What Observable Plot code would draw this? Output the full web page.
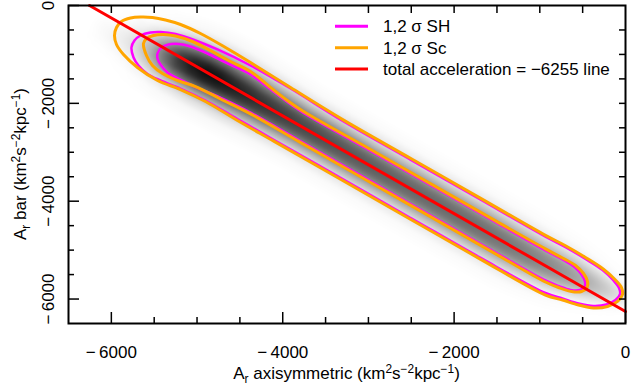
<!DOCTYPE html>
<html>
<head>
<meta charset="utf-8">
<script src="https://cdn.jsdelivr.net/npm/d3@7"></script>
<script src="https://cdn.jsdelivr.net/npm/@observablehq/plot@0.6"></script>
<style>
  html, body { margin: 0; padding: 0; background: #fff; }
</style>
</head>
<body>
<div id="chart"></div>
<script>
// ---------- data ----------
const totalAcc = -6255;                       // red line: x + y = -6255
const xMajor = [-6000, -4000, -2000, 0];
const xMinor = [-5500, -5000, -4500, -3500, -3000, -2500, -1500, -1000, -500];
const yMajor = [0, -2000, -4000, -6000];
const yMinor = [-500, -1000, -1500, -2500, -3000, -3500, -4500, -5000, -5500];
const allTicks = [-6000, -5500, -5000, -4500, -4000, -3500, -3000, -2500, -2000, -1500, -1000, -500];

const legendLabels = ["1,2 \u03c3 SH", "1,2 \u03c3 Sc", "total acceleration = \u22126255 line"];
const legendColors = ["#ff00ff", "#ffa500", "#ff0000"];

// contours (closed), data units
const sc2X = [-5963, -5940, -5882, -5776, -5660, -5520, -5368, -5193, -4960, -4668, -4376, -3909, -3300, -2500, -1700, -934, -700, -467, -257, -117, -47, -35, -93, -210, -373, -548, -735, -934, -1700, -2500, -3300, -4100, -4528, -4901, -5193, -5461, -5695, -5858, -5940];
const sc2Y = [-613, -450, -327, -256, -235, -245, -296, -388, -572, -858, -1165, -1676, -2332, -3132, -3932, -4698, -4910, -5150, -5390, -5610, -5764, -5907, -6050, -6152, -6183, -6122, -6020, -5920, -5178, -4378, -3578, -2778, -2351, -1962, -1717, -1533, -1267, -1002, -797];

const sh2X = [-5765, -5730, -5660, -5543, -5426, -5251, -5018, -4761, -4376, -3909, -3300, -2500, -1700, -934, -700, -467, -268, -140, -76, -64, -117, -222, -373, -548, -735, -934, -1700, -2500, -3300, -4100, -4528, -4901, -5193, -5426, -5578, -5683, -5741];
const sh2Y = [-858, -715, -613, -552, -542, -583, -715, -899, -1226, -1697, -2360, -3160, -3960, -4726, -4940, -5180, -5406, -5621, -5774, -5897, -6020, -6112, -6142, -6091, -5989, -5877, -5150, -4350, -3550, -2750, -2322, -1942, -1697, -1533, -1400, -1226, -1063];

const sc1X = [-5625, -5590, -5508, -5391, -5251, -5053, -4843, -4609, -4376, -4084, -3793, -3000, -2200, -1500, -934, -735, -583, -490, -443, -449, -513, -630, -782, -934, -1500, -2200, -3000, -3800, -4376, -4726, -5018, -5228, -5403, -5520, -5590];
const sc1Y = [-777, -675, -613, -593, -623, -736, -920, -1145, -1349, -1758, -2126, -2918, -3718, -4418, -4975, -5160, -5314, -5478, -5641, -5764, -5846, -5846, -5764, -5652, -5092, -4392, -3592, -2792, -2216, -1911, -1656, -1533, -1390, -1226, -1022];

const sh1X = [-5461, -5415, -5333, -5216, -5076, -4878, -4668, -4376, -4084, -3793, -3000, -2200, -1500, -934, -735, -595, -513, -473, -478, -531, -642, -782, -934, -1500, -2200, -3000, -3800, -4376, -4691, -5076, -5345, -5426, -5461];
const sh1Y = [-981, -858, -797, -787, -838, -981, -1165, -1410, -1789, -2156, -2945, -3745, -4445, -5005, -5190, -5345, -5498, -5641, -5744, -5815, -5815, -5733, -5621, -5065, -4365, -3565, -2765, -2189, -1915, -1615, -1369, -1206, -1083];

// grey density: stations along the ridge (x on the red line), darkness, offset from the red line, width
const densX     = [-6150, -5950, -5800, -5650, -5500, -5350, -5200, -5050, -4900, -4750, -4550, -4300, -4050, -3800, -3550, -3300, -3050, -2800, -2550, -2300, -2050, -1800, -1550, -1300, -1100, -900, -720, -560, -420, -290, -170, -60, 60, 180];
const densPeak  = [0, 0.03, 0.07, 0.14, 0.3, 0.55, 0.78, 0.9, 0.95, 0.94, 0.88, 0.82, 0.77, 0.73, 0.7, 0.67, 0.65, 0.63, 0.61, 0.6, 0.59, 0.58, 0.56, 0.53, 0.5, 0.46, 0.41, 0.35, 0.28, 0.21, 0.14, 0.08, 0.03, 0];
const densShift = [-350, -320, -260, -200, -150, -110, -70, -40, -20, -5, 0, 5, 10, 10, 10, 5, 0, 0, 0, 0, 0, 0, 0, 5, 20, 45, 80, 120, 160, 200, 240, 265, 285, 300];
const densWidth = [0.5, 0.6, 0.72, 0.85, 0.95, 1.0, 1.05, 1.08, 1.1, 1.1, 1.1, 1.06, 1.03, 1.0, 1.0, 1.0, 1.0, 1.0, 1.0, 1.0, 1.0, 1.0, 1.0, 1.0, 0.97, 0.93, 0.88, 0.8, 0.72, 0.64, 0.56, 0.48, 0.42, 0.4];
const profOffset = [-2.0, -1.5, -1.15, -0.85, -0.58, -0.3, 0, 0.3, 0.58, 0.85, 1.15, 1.5, 2.0]; // x halfWidth
const profShape  = [0, 0.03, 0.14, 0.38, 0.66, 0.91, 1, 0.91, 0.66, 0.38, 0.14, 0.03, 0];
const halfWidth = 560;
// direction (in data units) that is perpendicular to the red line on screen, per unit of vertical offset
const perpX = 0.2457, perpY = 0.755;

// ---------- tables for the library ----------
const zipXY = (xs, ys) => xs.map((x, i) => ({x, y: ys[i]}));
const densityPts = [];
densX.forEach((xc, i) => {
  const yc = totalAcc - xc;
  profOffset.forEach((o, j) => {
    const d = densShift[i] + densWidth[i] * o * halfWidth;
    densityPts.push({x: xc + perpX * d, y: yc + perpY * d, v: densPeak[i] * profShape[j]});
  });
});
const redLine = [{x: totalAcc, y: 0}, {x: 0, y: totalAcc}];
const fmt = d => d === 0 ? "0" : "\u2212\u2009" + Math.abs(d);

const FONT = "'Liberation Sans', Arial, Helvetica, sans-serif";

const chart = Plot.plot({
  width: 631,
  height: 386,
  marginLeft: 68,
  marginRight: 6,
  marginTop: 5,
  marginBottom: 63,
  x: {domain: [-6500, 0]},
  y: {domain: [-6500, 0]},
  color: {type: "linear", domain: [0, 1], range: ["#ffffff", "#000000"]},
  style: {fontFamily: FONT, fontSize: "17px", background: "white", color: "black"},
  marks: [
    Plot.raster(densityPts, {x: "x", y: "y", fill: "v", interpolate: "barycentric", x1: -6500, x2: 0, y1: -6500, y2: 0, className: "dens"}),
    Plot.line(zipXY(sh2X, sh2Y), {x: "x", y: "y", stroke: "#ff00ff", strokeWidth: 2.5, curve: "catmull-rom-closed"}),
    Plot.line(zipXY(sh1X, sh1Y), {x: "x", y: "y", stroke: "#ff00ff", strokeWidth: 2.5, curve: "catmull-rom-closed"}),
    Plot.line(zipXY(sc2X, sc2Y), {x: "x", y: "y", stroke: "#ffa500", strokeWidth: 3, curve: "catmull-rom-closed"}),
    Plot.line(zipXY(sc1X, sc1Y), {x: "x", y: "y", stroke: "#ffa500", strokeWidth: 3, curve: "catmull-rom-closed"}),
    Plot.line(redLine, {x: "x", y: "y", stroke: "#ff0000", strokeWidth: 3}),
    Plot.frame({stroke: "black", strokeWidth: 2}),
    Plot.axisX(xMajor, {anchor: "bottom", tickSize: 0, tickPadding: 22, tickFormat: fmt, label: null, fontSize: 17}),
    Plot.axisX(xMajor, {anchor: "bottom", tickSize: -11, fill: "none", label: null, strokeWidth: 1.5}),
    Plot.axisX(xMinor, {anchor: "bottom", tickSize: -6, fill: "none", label: null, strokeWidth: 1.5}),
    Plot.axisX(allTicks, {anchor: "top", tickSize: -7, fill: "none", label: null, strokeWidth: 1.5}),
    Plot.axisY(yMajor, {anchor: "left", tickSize: 0, tickPadding: 20, tickRotate: -90, textAnchor: "middle", lineAnchor: "middle", tickFormat: fmt, label: null, fontSize: 17}),
    Plot.axisY(yMajor, {anchor: "left", tickSize: -11, fill: "none", label: null, strokeWidth: 1.5}),
    Plot.axisY(yMinor, {anchor: "left", tickSize: -6, fill: "none", label: null, strokeWidth: 1.5}),
    Plot.axisY(allTicks, {anchor: "right", tickSize: -7, fill: "none", label: null, strokeWidth: 1.5})
  ]
});

document.getElementById("chart").appendChild(chart);

const svg = d3.select(chart);
// soften the interpolated density a little
svg.selectAll(".dens image").style("filter", "blur(1.5px)");

// ---------- axis titles with sub/superscripts ----------
function richText(g, parts, size) {
  const t = g.append("text").attr("font-family", FONT).attr("font-size", size).attr("fill", "black").attr("text-anchor", "middle");
  const off = l => l === 1 ? -0.36 * size : l === -1 ? 0.25 * size : 0;
  let level = 0;
  parts.forEach(([s, l]) => {
    t.append("tspan").attr("dy", off(l) - off(level)).attr("font-size", l !== 0 ? size * 0.7 : size).text(s);
    level = l;
  });
  return t;
}
const xTitle = [["A", 0], ["r", -1], [" axisymmetric (km", 0], ["2", 1], ["s", 0], ["\u22122", 1], ["kpc", 0], ["\u22121", 1], [")", 0]];
const yTitle = [["A", 0], ["r", -1], [" bar (km", 0], ["2", 1], ["s", 0], ["\u22122", 1], ["kpc", 0], ["\u22121", 1], [")", 0]];
richText(svg.append("g").attr("transform", "translate(346.5,379)"), xTitle, 17);
richText(svg.append("g").attr("transform", "translate(26,164) rotate(-90)"), yTitle, 17);

// ---------- legend ----------
const lg = svg.append("g").attr("text-anchor", "start");
legendLabels.forEach((lab, i) => {
  const y = 26.3 + 21.4 * i;
  lg.append("line").attr("x1", 335).attr("x2", 368).attr("y1", y).attr("y2", y)
    .attr("stroke", legendColors[i]).attr("stroke-width", 3);
  lg.append("text").attr("x", 383).attr("y", y).attr("dy", "0.36em").attr("text-anchor", "start")
    .attr("font-family", FONT).attr("font-size", 17).attr("fill", "black").text(lab);
});
</script>
</body>
</html>
